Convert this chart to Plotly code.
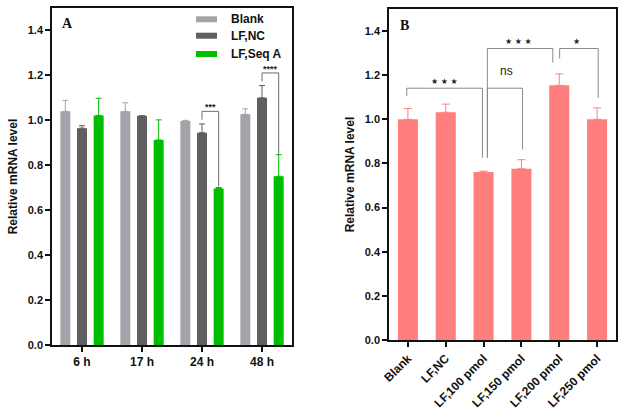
import plotly.graph_objects as go

# ---------------- data ----------------
times = ["6 h", "17 h", "24 h", "48 h"]
series_names = ["Blank", "LF,NC", "LF,Seq A"]
blank_vals = [1.040, 1.040, 0.997, 1.027]
blank_err = [0.049, 0.038, 0.003, 0.024]
nc_vals = [0.965, 1.020, 0.945, 1.100]
nc_err = [0.011, 0.000, 0.039, 0.055]
seqa_vals = [1.022, 0.913, 0.697, 0.751]
seqa_err = [0.076, 0.089, 0.004, 0.096]

doses = ["Blank", "LF,NC", "LF,100 pmol", "LF,150 pmol", "LF,200 pmol", "LF,250 pmol"]
dose_vals = [1.000, 1.032, 0.761, 0.776, 1.154, 1.000]
dose_err = [0.049, 0.037, 0.004, 0.041, 0.052, 0.052]

y_ticks = [0.0, 0.2, 0.4, 0.6, 0.8, 1.0, 1.2, 1.4]

# significance brackets, panel A: (category, top height, left leg end, right leg end, label)
sig_a = [(2, 1.040, 1.003, 0.706, "***"), (3, 1.211, 1.174, 0.847, "****")]
# panel B: (left x, right x, top, left end, right end, label, label x, label y)
sig_b = [
    (-0.03, 1.97, 1.141, 1.105, 0.826, "\u2605 \u2605 \u2605", 0.98, 1.173),
    (2.10, 3.03, 1.141, 0.826, 0.863, "ns", 2.61, 1.219),
    (2.10, 3.83, 1.321, 0.826, 1.257, "\u2605 \u2605 \u2605", 2.92, 1.352),
    (4.01, 5.03, 1.321, 1.275, 1.098, "\u2605", 4.46, 1.352),
]

colors_a = ["#A3A3A9", "#5F5F5F", "#00BE00"]
color_b = "#FF7F7F"

W, H = 624, 411
A_dom_x = [52 / W, 292 / W]
A_dom_y = [(H - 345) / H, (H - 8) / H]
B_dom_x = [389 / W, 616 / W]
B_dom_y = [(H - 340) / H, (H - 9) / H]

FONT = "Liberation Sans, Arial, sans-serif"

fig = go.Figure()

bargap_a = 0.167
slot = (1 - bargap_a) / 3
xs_a = list(range(len(times)))
for vals, errs, name, col in zip([blank_vals, nc_vals, seqa_vals],
                                 [blank_err, nc_err, seqa_err], series_names, colors_a):
    fig.add_trace(go.Bar(
        x=xs_a, y=vals, name=name, marker=dict(color=col, line=dict(width=0)),
        error_y=dict(type="data", array=errs, arrayminus=[0] * len(errs), symmetric=False,
                     color=col, thickness=1, width=3),
        xaxis="x", yaxis="y", showlegend=False,
    ))

fig.add_trace(go.Bar(
    x=list(range(len(doses))), y=dose_vals, name="dose",
    marker=dict(color=color_b, line=dict(width=0)),
    error_y=dict(type="data", array=dose_err, arrayminus=[0] * len(dose_err), symmetric=False,
                 color=color_b, thickness=1, width=4),
    xaxis="x2", yaxis="y2", showlegend=False, width=0.53,
))

# brackets panel A
for cat, top, lend, rend, lab in sig_a:
    xl = cat  # LF,NC bar centre
    xr = cat + slot  # LF,Seq A bar centre
    fig.add_trace(go.Scatter(
        x=[xl, xl, xr, xr], y=[lend, top, top, rend], mode="lines",
        line=dict(color="#6E6E6E", width=1), xaxis="x", yaxis="y",
        showlegend=False, hoverinfo="skip"))
    fig.add_annotation(x=(xl + xr) / 2, y=top, text=lab, showarrow=False, xref="x", yref="y",
                       xanchor="center", yanchor="bottom", yshift=-3,
                       font=dict(family=FONT, size=9, color="#222", weight="bold"))

# brackets panel B
for xl, xr, top, lend, rend, lab, lx, ly in sig_b:
    fig.add_trace(go.Scatter(
        x=[xl, xl, xr, xr], y=[lend, top, top, rend], mode="lines",
        line=dict(color="#8A8A8A", width=1), xaxis="x2", yaxis="y2",
        showlegend=False, hoverinfo="skip"))
    fig.add_annotation(x=lx, y=ly, text=lab, showarrow=False, xref="x2", yref="y2",
                       xanchor="center", yanchor="middle",
                       font=dict(family="DejaVu Sans" if lab != "ns" else FONT,
                                 size=8 if lab != "ns" else 12, color="#222"))

line_common = dict(showline=True, linecolor="#111", linewidth=1.6, mirror=True,
                   ticks="outside", ticklen=5, tickwidth=1.5, tickcolor="#111",
                   showgrid=False, zeroline=False, automargin=False)
yfont = dict(family=FONT, size=11, color="#111", weight="bold")
xfont = dict(family=FONT, size=12, color="#111", weight="bold")
title_font = dict(family=FONT, size=12, color="#111", weight="bold")

fig.update_layout(
    width=W, height=H, margin=dict(l=0, r=0, t=0, b=0, autoexpand=False),
    paper_bgcolor="white", plot_bgcolor="white",
    barmode="group", bargap=bargap_a, bargroupgap=0.4,
    xaxis=dict(domain=A_dom_x, anchor="y", range=[-0.5, 3.5], tickvals=xs_a, ticktext=times,
               tickfont=xfont, **line_common),
    yaxis=dict(domain=A_dom_y, anchor="x", range=[0, 1.5], tickvals=y_ticks, tickformat=".1f",
               tickfont=yfont,
               title=dict(text="Relative mRNA level", standoff=8, font=title_font),
               **line_common),
    xaxis2=dict(domain=B_dom_x, anchor="y2", range=[-0.5, 5.5], tickvals=list(range(len(doses))),
                ticktext=doses, tickangle=-45, tickfont=xfont, **line_common),
    yaxis2=dict(domain=B_dom_y, anchor="x2", range=[0, 1.5], tickvals=y_ticks, tickformat=".1f",
                tickfont=yfont,
                title=dict(text="Relative mRNA level", standoff=8, font=title_font),
                **line_common),
)

# panel labels
fig.add_annotation(x=67 / W, y=1 - 23 / H, xref="paper", yref="paper", text="<b>A</b>",
                   showarrow=False, xanchor="center", yanchor="middle",
                   font=dict(family="Liberation Serif, Times New Roman, serif", size=14, color="#111"))
fig.add_annotation(x=404 / W, y=1 - 25 / H, xref="paper", yref="paper", text="<b>B</b>",
                   showarrow=False, xanchor="center", yanchor="middle",
                   font=dict(family="Liberation Serif, Times New Roman, serif", size=14, color="#111"))

# legend for panel A (drawn manually to reproduce the wide swatches)
leg_y = [19.3, 35.7, 54.0]
for name, col, yy in zip(series_names, colors_a, leg_y):
    fig.add_shape(type="rect", xref="paper", yref="paper",
                  x0=196 / W, x1=217 / W, y0=1 - (yy + 3) / H, y1=1 - (yy - 3) / H,
                  fillcolor=col, line=dict(width=0))
    fig.add_annotation(x=229 / W, y=1 - yy / H, xref="paper", yref="paper", text=name,
                       showarrow=False, xanchor="left", yanchor="middle",
                       font=dict(family=FONT, size=12, color="#111", weight="bold"))

fig.write_html("out.html", config={"displayModeBar": False},
               post_script="document.body.style.margin='0';document.body.style.padding='0';")
